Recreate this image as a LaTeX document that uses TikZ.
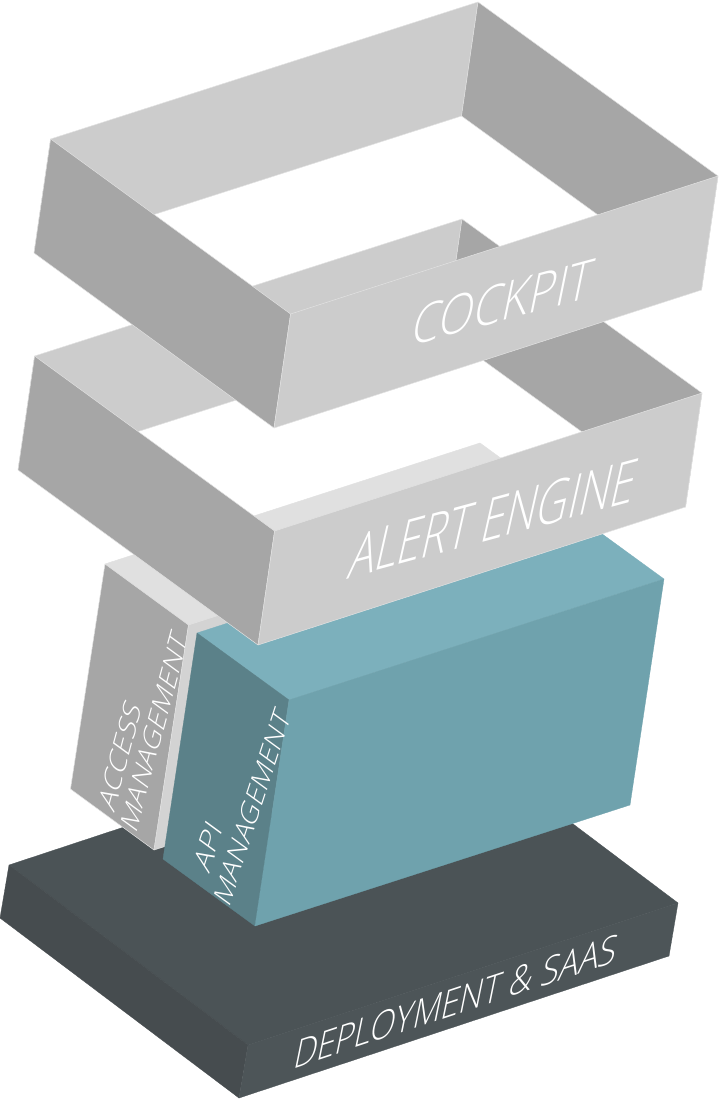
\documentclass[tikz,border=0pt]{standalone}
\usepackage{graphicx}
\usepackage{fontspec}
\IfFontExistsTF{Open Sans Light}{\setmainfont{Open Sans Light}}{\setmainfont{Open Sans}}
\definecolor{glight}{HTML}{CCCCCC}
\definecolor{gdark}{HTML}{A6A6A6}
\definecolor{gtop}{HTML}{E0E0E0}
\definecolor{gstrip}{HTML}{D3D3D3}
\definecolor{ttop}{HTML}{7CB0BC}
\definecolor{tfront}{HTML}{6FA2AD}
\definecolor{tleft}{HTML}{5B8189}
\definecolor{btop}{HTML}{4B5356}
\definecolor{bleft}{HTML}{464C4F}
\definecolor{bfront}{HTML}{4D5558}
\definecolor{edgeline}{HTML}{E2E2E2}
\tikzset{
  gface/.style={fill=#1, draw=edgeline, line width=0.5pt, line join=round},
  pface/.style={fill=#1, draw=#1, line width=0.3pt, line join=round},
  lbl/.style={anchor=base west, inner sep=0pt, outer sep=0pt, text=white, transform shape}
}
\begin{document}
\begin{tikzpicture}[x=1pt,y=-1pt]
\useasboundingbox (0,0) rectangle (720,1099);

% ---------- base: deployment & saas ----------
\fill[pface=btop]   (9,865) -- (439,723) -- (678,903) -- (248,1045) -- cycle;
\fill[pface=bleft]  (9,865) -- (248,1045) -- (239,1098) -- (0,918) -- cycle;
\fill[pface=bfront] (248,1045) -- (678,903) -- (669,956) -- (239,1098) -- cycle;
\begin{scope}[cm={0.9496,0.3134,0.2,0.98,(292,1069)}]
  \node[lbl] (deploy) at (0,0) {\resizebox{340pt}{30pt}{DEPLOYMENT \& SAAS}};
\end{scope}

% ---------- access management ----------
\fill[gface=gtop]   (105,564) -- (480,443) -- (563.5,504) -- (188.5,625) -- cycle;
\fill[gface=gdark]  (105,564) -- (188.5,625) -- (154,850) -- (70.5,789) -- cycle;
\fill[gface=gstrip] (188.5,625) -- (563.5,504) -- (529,729) -- (154,850) -- cycle;
\begin{scope}[cm={0.26,0.966,-0.808,0.589,(114,813)}]
  \node[lbl] (access) at (0,0) {\resizebox{108pt}{20pt}{ACCESS}};
\end{scope}
\begin{scope}[cm={0.26,0.966,-0.808,0.589,(136,834)}]
  \node[lbl] (accessmgmt) at (0,0) {\resizebox{200pt}{20pt}{MANAGEMENT}};
\end{scope}

% ---------- api management ----------
\fill[pface=ttop]   (197,633) -- (572,512) -- (664,579) -- (289,700) -- cycle;
\fill[pface=tleft]  (197,633) -- (289,700) -- (255,926) -- (163,859) -- cycle;
\fill[pface=tfront] (289,700) -- (664,579) -- (630,805) -- (255,926) -- cycle;
\begin{scope}[cm={0.31,0.951,-0.808,0.589,(209,874)}]
  \node[lbl] (api) at (0,0) {\resizebox{46pt}{20pt}{API}};
\end{scope}
\begin{scope}[cm={0.31,0.951,-0.808,0.589,(229,908)}]
  \node[lbl] (apimgmt) at (0,0) {\resizebox{200pt}{20pt}{MANAGEMENT}};
\end{scope}

% ---------- alert engine frame ----------
\fill[gface=glight] (34.6,356) -- (462,219) -- (445.5,333) -- (18,470) -- cycle;
\fill[gface=gdark]  (462,219) -- (702,393) -- (685.5,507) -- (445.5,333) -- cycle;
\fill[gface=gdark]  (34.6,356) -- (274.6,531) -- (258,645) -- (18,470) -- cycle;
\fill[gface=glight] (274.6,531) -- (702,393) -- (685.5,507) -- (258,645) -- cycle;
\begin{scope}[cm={0.965,0.261,0.22,0.975,(346,579)}]
  \node[lbl] (alert) at (0,0) {\resizebox{296pt}{46pt}{ALERT ENGINE}};
\end{scope}

% ---------- cockpit frame ----------
\fill[gface=glight] (50.6,139) -- (478,2) -- (461.5,116) -- (34,253) -- cycle;
\fill[gface=gdark]  (478,2) -- (718,176) -- (701.5,290) -- (461.5,116) -- cycle;
\fill[gface=gdark]  (50.6,139) -- (290.6,314) -- (274,428) -- (34,253) -- cycle;
\fill[gface=glight] (290.6,314) -- (718,176) -- (701.5,290) -- (274,428) -- cycle;
\begin{scope}[cm={0.9655,0.2605,0.2,0.98,(409,346)}]
  \node[lbl] (cockpit) at (0,0) {\resizebox{186pt}{41pt}{COCKPIT}};
\end{scope}
\end{tikzpicture}
\end{document}
